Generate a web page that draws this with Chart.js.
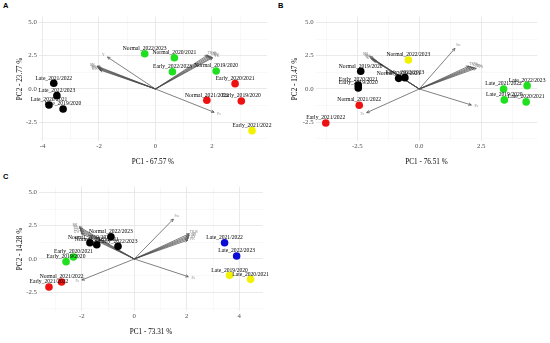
<!DOCTYPE html>
<html><head><meta charset="utf-8">
<script src="https://cdn.jsdelivr.net/npm/chart.js@4"></script>
<style>
html,body{margin:0;padding:0;background:#fff}
body{width:550px;height:343px;position:relative;overflow:hidden}
.p{position:absolute}
.tag{position:absolute;font:bold 7.5px 'Liberation Sans',Arial,sans-serif;color:#000}
</style></head><body>
<div class="tag" style="left:3px;top:1px">A</div>
<div class="tag" style="left:278px;top:1px">B</div>
<div class="tag" style="left:3px;top:172px">C</div>
<div class="p" style="left:0;top:0;width:272px;height:170px"><canvas id="cA"></canvas></div>
<div class="p" style="left:275px;top:0;width:275px;height:170px"><canvas id="cB"></canvas></div>
<div class="p" style="left:0;top:170px;width:272px;height:170px"><canvas id="cC"></canvas></div>
<script>
// ---------- Panel A data ----------
const obsA = ["Late_2021/2022","Late_2022/2023","Late_2020/2021","Late_2019/2020","Normal_2022/2023","Normal_2020/2021","Early_2022/2023","Normal_2019/2020","Early_2020/2021","Normal_2021/2022","Early_2019/2020","Early_2021/2022"];
const pc1A = [-3.60,-3.49,-3.77,-3.27,-0.38,0.67,0.60,2.15,2.82,1.82,3.04,3.42];
const pc2A = [0.43,-0.50,-1.20,-1.50,2.65,2.35,1.30,1.35,0.40,-0.85,-0.90,-3.13];
const grpA = [1,1,1,1,2,2,2,2,3,3,3,4];
const varA = ["Y","PH","SL","SN","GN","GW","TKW","GY","HI","BY","PR","Ps"];
const vx1A = [-1.70,-2.07,-2.05,-2.02,-2.00,-1.97,1.85,1.90,1.95,2.00,2.03,2.08];
const vx2A = [2.40,1.72,1.65,1.58,1.50,1.43,2.55,2.50,2.45,2.40,2.35,-1.75];
const xTicksA = [-4,-2,0,2];
const xTickLabelsA = ["-4","-2","0","2"];
const xMinorA = [-3,-1,1,3];

// ---------- Panel B data ----------
const obsB = ["Normal_2022/2023","Normal_2019/2020","Normal_2020/2021","Early_2022/2023","Early_2020/2021","Early_2019/2020","Normal_2021/2022","Early_2021/2022","Late_2021/2022","Late_2022/2023","Late_2019/2020","Late_2020/2021"];
const pc1B = [-0.44,-2.36,-0.83,-0.58,-2.46,-2.46,-2.42,-3.77,3.40,4.35,3.43,4.31];
const pc2B = [2.18,1.33,0.80,0.85,0.30,0.08,-1.22,-2.55,0.00,0.25,-0.82,-0.97];
const grpB = [4,1,1,1,1,1,3,3,2,2,2,2];
const varB = ["Sw","TKW","GY","HI","BY","PR","Ps","Fs","PH","SL","SN","GN","GW"];
const vx1B = [1.44,2.00,2.08,2.15,2.22,2.30,2.10,-2.12,-2.00,-1.97,-1.93,-1.88,-1.83];
const vx2B = [3.05,1.72,1.68,1.64,1.60,1.56,-1.20,-1.78,2.45,2.38,2.30,2.22,2.15];
const xTicksB = [-2.5,0,2.5];
const xTickLabelsB = ["-2.5","0.0","2.5"];
const xMinorB = [-3.75,-1.25,1.25,3.75];

// ---------- Panel C data ----------
const obsC = ["Late_2021/2022","Late_2022/2023","Late_2019/2020","Late_2020/2021","Normal_2022/2023","Normal_2019/2020","Normal_2020/2021","Early_2022/2023","Early_2020/2021","Early_2019/2020","Normal_2021/2022","Early_2021/2022"];
const pc1C = [3.44,3.90,3.63,4.43,-0.89,-1.69,-1.43,-0.62,-2.32,-2.60,-2.77,-3.25];
const pc2C = [1.22,0.22,-1.23,-1.53,1.67,1.22,1.07,0.95,0.15,-0.20,-1.73,-2.10];
const grpC = [5,5,4,4,1,1,1,1,2,2,3,3];
const varC = ["Sw","TKW","GY","HI","BY","PR","Ps","Fs","PH","SL","SN","GN","GW"];
const vx1C = [1.49,2.10,2.10,2.08,2.06,2.04,2.06,-2.00,-2.10,-2.08,-2.06,-2.04,-2.02];
const vx2C = [3.00,1.90,1.78,1.66,1.54,1.42,-1.33,-1.58,2.42,2.30,2.18,2.05,1.92];
const xTicksC = [-2,0,2,4];
const xTickLabelsC = ["-2","0","2","4"];
const xMinorC = [-3,-1,1,3];

// ---------- shared y ticks ----------
const yTicks = [-2.5,0,2.5,5];
const yTickLabels = ["-2.5","0.0","2.5","5.0"];
const yMinor = [-3.75,-1.25,1.25,3.75];

const palette = {1:"#000000",2:"#1fe01f",3:"#ee1111",4:"#f2f200",5:"#0b0bd6"};
const SERIF = "'Liberation Serif','Times New Roman',serif";

const biplotPlugin = {
  id:'biplot',
  afterDatasetsDraw(chart){
    const ctx = chart.ctx, xs = chart.scales.x, ys = chart.scales.y;
    const ca = chart.chartArea;
    ctx.save();
    ctx.beginPath(); ctx.rect(ca.left-40, ca.top-20, ca.right-ca.left+80, ca.bottom-ca.top+40); ctx.clip();
    chart.data.datasets.forEach(ds=>{
      if(ds.kind==='arrow'){
        const p0 = {x:xs.getPixelForValue(0), y:ys.getPixelForValue(0)};
        const p1 = {x:xs.getPixelForValue(ds.data[1].x), y:ys.getPixelForValue(ds.data[1].y)};
        const a = Math.atan2(p1.y-p0.y, p1.x-p0.x), L=3.2, w=0.45;
        ctx.strokeStyle = ds.borderColor; ctx.lineWidth = 0.7;
        ctx.beginPath();
        ctx.moveTo(p1.x - L*Math.cos(a-w), p1.y - L*Math.sin(a-w));
        ctx.lineTo(p1.x, p1.y);
        ctx.lineTo(p1.x - L*Math.cos(a+w), p1.y - L*Math.sin(a+w));
        ctx.stroke();
        ctx.fillStyle = '#8a8a8a';
        ctx.font = '3.6px ' + SERIF;
        ctx.textAlign='center'; ctx.textBaseline='middle';
        ctx.fillText(ds.varName, p1.x + 5*Math.cos(a), p1.y + 4*Math.sin(a));
      }
    });
    chart.data.datasets.forEach(ds=>{
      if(ds.kind==='obs'){
        ctx.fillStyle = '#000'; ctx.font = '5.6px ' + SERIF;
        ctx.textAlign='center'; ctx.textBaseline='middle';
        ds.data.forEach(pt=>{
          ctx.fillText(pt.name, xs.getPixelForValue(pt.x), ys.getPixelForValue(pt.y) - 5.2);
        });
      }
    });
    ctx.restore();
  }
};

function buildPanel(id, o){
  const datasets = [];
  o.vars.forEach((v,i)=>{
    datasets.push({kind:'arrow', varName:v, showLine:true, data:[{x:0,y:0},{x:o.vx[i],y:o.vy[i]}],
      borderColor:'#4a4a4a', borderWidth:0.7, pointRadius:0, order:2});
  });
  const groups = [...new Set(o.grp)];
  groups.forEach(g=>{
    const pts = [];
    o.obs.forEach((n,i)=>{ if(o.grp[i]===g) pts.push({x:o.pc1[i], y:o.pc2[i], name:n}); });
    datasets.push({kind:'obs', data:pts, backgroundColor:palette[g], borderWidth:0, pointRadius:3.8, order:1});
  });
  const gridOpt = (majors)=>({
    color: c => majors.includes(c.tick.value) ? '#e4e4e4' : '#f0f0f0',
    lineWidth: c => majors.includes(c.tick.value) ? 0.8 : 0.5,
    drawTicks:false
  });
  new Chart(document.getElementById(id), {
    type:'scatter',
    data:{datasets},
    plugins:[biplotPlugin],
    options:{
      responsive:true, maintainAspectRatio:false, animation:false,
      layout:{padding:o.pad},
      plugins:{legend:{display:false}, tooltip:{enabled:false}},
      scales:{
        x:{type:'linear', min:o.xmin, max:o.xmax,
          afterBuildTicks(s){ s.ticks = [...o.xMajor, ...o.xMinor].sort((a,b)=>a-b).map(v=>({value:v})); },
          afterFit(s){ s.height = o.xh; },
          grid:gridOpt(o.xMajor), border:{display:false},
          ticks:{autoSkip:false, maxRotation:0, padding:1, color:'#4d4d4d', font:{family:SERIF, size:6.8},
            callback:v=>{ const i=o.xMajor.indexOf(v); return i>=0 ? o.xLabels[i] : ''; }},
          title:{display:true, text:o.xTitle, color:'#000', font:{family:SERIF, size:7.2}, padding:{top:0,bottom:3.7}}
        },
        y:{type:'linear', min:-3.93, max:5.43,
          afterBuildTicks(s){ s.ticks = [...yTicks, ...yMinor].sort((a,b)=>a-b).map(v=>({value:v})); },
          afterFit(s){ s.width = o.yw; },
          grid:gridOpt(yTicks), border:{display:false},
          ticks:{autoSkip:false, padding:2, color:'#4d4d4d', font:{family:SERIF, size:6.8},
            callback:v=>{ const i=yTicks.indexOf(v); return i>=0 ? yTickLabels[i] : ''; }},
          title:{display:true, text:o.yTitle, color:'#000', font:{family:SERIF, size:7.2}, padding:{top:4,bottom:0}}
        }
      }
    }
  });
}

buildPanel('cA', {obs:obsA, pc1:pc1A, pc2:pc2A, grp:grpA, vars:varA, vx:vx1A, vy:vx2A,
  xMajor:xTicksA, xMinor:xMinorA, xLabels:xTickLabelsA, xmin:-4.13, xmax:3.95,
  xTitle:'PC1 - 67.57 %', yTitle:'PC2 - 23.77 %',
  pad:{left:12, top:16.7, right:5, bottom:0}, yw:26.8, xh:28.7});
buildPanel('cB', {obs:obsB, pc1:pc1B, pc2:pc2B, grp:grpB, vars:varB, vx:vx1B, vy:vx2B,
  xMajor:xTicksB, xMinor:xMinorB, xLabels:xTickLabelsB, xmin:-4.18, xmax:4.76,
  xTitle:'PC1 - 76.51 %', yTitle:'PC2 - 13.47 %',
  pad:{left:12, top:16.7, right:12.7, bottom:0}, yw:28.6, xh:28.7});
buildPanel('cC', {obs:obsC, pc1:pc1C, pc2:pc2C, grp:grpC, vars:varC, vx:vx1C, vy:vx2C,
  xMajor:xTicksC, xMinor:xMinorC, xLabels:xTickLabelsC, xmin:-3.63, xmax:4.9,
  xTitle:'PC1 - 73.31 %', yTitle:'PC2 - 14.28 %',
  pad:{left:12, top:16.7, right:9.1, bottom:0}, yw:27, xh:28.7});
</script>
</body></html>
